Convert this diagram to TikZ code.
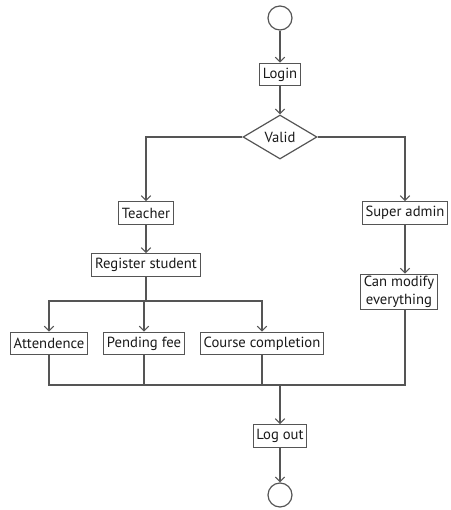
\documentclass[tikz,border=0pt]{standalone}
\usepackage{fontspec}
\setmainfont{PT Sans}
\usetikzlibrary{shapes.geometric,arrows.meta}
\definecolor{linec}{HTML}{555555}
\definecolor{textc}{HTML}{1A1A1A}
\begin{document}
\begin{tikzpicture}[x=0.75pt,y=-0.75pt,
  ln/.style={draw=linec, line width=0.9pt},
  box/.style={draw=linec, line width=0.9pt, rectangle, minimum height=17pt, inner xsep=2.5pt, inner ysep=1.5pt, font=\fontsize{11}{13}\selectfont, text=textc, fill=white},
  dec/.style={draw=linec, line width=0.9pt, diamond, minimum width=55.5pt, minimum height=33pt, inner sep=0pt, font=\fontsize{11}{13}\selectfont, text=textc},
  term/.style={draw=linec, line width=0.9pt, circle, minimum size=18pt, inner sep=0pt},
  arr/.style={ln, -{Straight Barb[length=3.5pt,width=7pt,line width=0.8pt]}}]
\useasboundingbox (0,0) rectangle (450,510);
\node[term] (start) at (280,18) {};
\node[box] (login) at (280,74.5) {Login};
\node[dec] (valid) at (280,137) {Valid};
\node[box] (teacher) at (146,213) {Teacher};
\node[box] (sadmin) at (405,213) {Super admin};
\node[box, align=center, font=\fontsize{11}{13.5}\selectfont] (cm) at (399,292) {Can modify\\everything};
\node[box] (reg) at (146,265) {Register student};
\node[box] (att) at (49,343.5) {Attendence};
\node[box] (pf) at (144,343.5) {Pending fee};
\node[box] (cc) at (262,343.5) {Course completion};
\node[box] (logout) at (280,436) {Log out};
\node[term] (end) at (280,495) {};
\coordinate (br) at (146,301);
\coordinate (jn) at (280,385);

\draw[arr] (start) -- (login);
\draw[arr] (login) -- (valid);
\draw[arr] (valid.west) -| (teacher.north);
\draw[arr] (valid.east) -| (sadmin.north);
\draw[arr] (teacher) -- (reg);
\draw[arr] (sadmin.south) -- (sadmin.south |- cm.north);
\draw[ln] (reg.south) -- (br);
\draw[arr] (br) -| (att.north);
\draw[arr] (br) -| (cc.north);
\draw[arr] (br) -| (pf.north);
\draw[ln] (att.south) |- (jn);
\draw[ln] (pf.south) -- (pf.south |- jn);
\draw[ln] (cc.south) -- (cc.south |- jn);
\draw[ln] (cm.south -| sadmin.south) |- (jn);
\draw[arr] (jn) -- (logout);
\draw[arr] (logout) -- (end);
\end{tikzpicture}
\end{document}
